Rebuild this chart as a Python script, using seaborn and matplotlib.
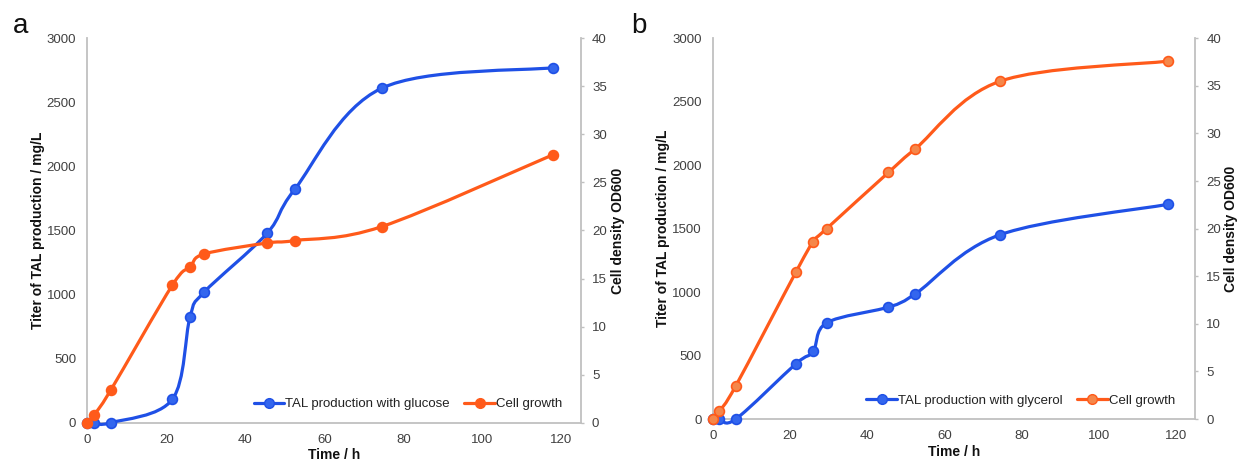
import numpy as np
import matplotlib
matplotlib.use("Agg")
import matplotlib.pyplot as plt
from matplotlib.path import Path
from matplotlib.patches import PathPatch
from matplotlib.lines import Line2D
import seaborn as sns

# ---------------- data ----------------
time_a = [0, 1.7, 6, 21.5, 26, 29.5, 45.5, 52.5, 74.5, 118]
tal_glucose = [0, 0, 0, 182, 827, 1017, 1478, 1821, 2610, 2771]
od_glucose = [0, 0.8, 3.45, 14.3, 16.2, 17.55, 18.7, 18.95, 20.4, 27.9]

time_b = [0, 1.7, 6, 21.5, 26, 29.5, 45.5, 52.5, 74.5, 118]
tal_glycerol = [0, 0, 0, 434, 532, 758, 882, 987, 1453, 1692]
od_glycerol = [0, 0.8, 3.5, 15.4, 18.6, 20.0, 25.9, 28.4, 35.5, 37.6]

x_ticks = [0, 20, 40, 60, 80, 100, 120]
left_ticks = [0, 500, 1000, 1500, 2000, 2500, 3000]
right_ticks = [0, 5, 10, 15, 20, 25, 30, 35, 40]

panel_labels = ["a", "b"]
legend_tal = ["TAL production with glucose", "TAL production with glycerol"]
legend_cell = "Cell growth"
xlabel = "Time / h"
ylabel_left = "Titer of TAL production / mg/L"
ylabel_right = "Cell density OD600"

BLUE = "#1F50E6"
ORANGE = "#FF5A1A"
BLUE_FACE = "#3366EE"
ORANGE_FACE_B = "#F5874A"
SPINE = "#C0C0C0"
TICKC = "#404040"

sns.set_theme(style="white")
plt.rcParams["font.family"] = ["Liberation Sans", "DejaVu Sans"]


def smooth_path(x, y):
    pts = np.column_stack([np.asarray(x, float), np.asarray(y, float)])
    n = len(pts)
    verts = [pts[0]]
    codes = [Path.MOVETO]
    for i in range(n - 1):
        p0 = pts[i - 1] if i > 0 else pts[i]
        p1 = pts[i]
        p2 = pts[i + 1]
        p3 = pts[i + 2] if i + 2 < n else pts[i + 1]
        c1 = p1 + (p2 - p0) / 6.0
        c2 = p2 - (p3 - p1) / 6.0
        verts += [c1, c2, p2]
        codes += [Path.CURVE4] * 3
    return Path(verts, codes)


fig = plt.figure(figsize=(12.38, 4.61), dpi=100)

rects = [
    [87.4 / 1238, (461 - 422.7) / 461, 493.6 / 1238, 384.4 / 461],
    [712.7 / 1238, (461 - 419) / 461, 482.7 / 1238, 380.7 / 461],
]
datasets = [
    (time_a, tal_glucose, od_glucose, BLUE_FACE, ORANGE),
    (time_b, tal_glycerol, od_glycerol, BLUE_FACE, ORANGE_FACE_B),
]
leg_anchor = [(0.962, 0.0486), (0.958, 0.048)]
ylab_left_x = [-0.101, -0.103]
ylab_right_x = [1.075, 1.074]
xlab_y = [-0.084, -0.087]
letter_pos = [(13 / 1238, 1 - 33 / 461), (631 / 1238, 1 - 33 / 461)]

for k in range(2):
    t, tal, od, bface, oface = datasets[k]
    ax = fig.add_axes(rects[k])
    ax2 = ax.twinx()

    # lines (smoothed through the data points)
    ax.add_patch(PathPatch(smooth_path(t, tal), facecolor="none", edgecolor=BLUE,
                           lw=2.3, capstyle="round", joinstyle="round", clip_on=False, zorder=3))
    ax2.add_patch(PathPatch(smooth_path(t, od), facecolor="none", edgecolor=ORANGE,
                            lw=2.3, capstyle="round", joinstyle="round", clip_on=False, zorder=3))
    sns.scatterplot(x=t, y=tal, ax=ax, s=50, color=bface, edgecolor=BLUE, linewidth=1.2,
                    clip_on=False, zorder=4, legend=False)
    sns.scatterplot(x=t, y=od, ax=ax2, s=50, color=oface, edgecolor=ORANGE, linewidth=1.2,
                    clip_on=False, zorder=4, legend=False)

    ax.set_xlim(0, 125)
    ax.set_ylim(0, 3000)
    ax2.set_ylim(0, 40)
    ax.set_xticks(x_ticks)
    ax.set_yticks(left_ticks)
    ax2.set_yticks(right_ticks)
    ax.set_xticklabels([str(v) for v in x_ticks])
    ax.set_yticklabels([str(v) for v in left_ticks])
    ax2.set_yticklabels([str(v) for v in right_ticks])

    for a in (ax, ax2):
        a.grid(False)
        a.set_facecolor("none")
        a.spines["top"].set_visible(False)
        for side in ("left", "bottom", "right"):
            a.spines[side].set_color(SPINE)
            a.spines[side].set_linewidth(1.3)
    ax.spines["right"].set_visible(False)
    ax2.spines["left"].set_visible(False)
    ax2.spines["bottom"].set_visible(False)

    ax.tick_params(axis="x", length=0, pad=8, labelsize=9.5, labelcolor=TICKC)
    ax.tick_params(axis="y", length=0, pad=8, labelsize=9.5, labelcolor=TICKC)
    ax2.tick_params(axis="y", right=True, length=2.4, width=1.0, color=SPINE, pad=5.5,
                    labelsize=9.5, labelcolor=TICKC)

    ax.set_xlabel(xlabel, fontsize=10, fontweight="bold", color="#111111")
    ax.xaxis.set_label_coords(0.5, xlab_y[k])
    ax.xaxis.label.set_va("center")
    ax.set_ylabel(ylabel_left, fontsize=10, fontweight="bold", color="#111111")
    ax.yaxis.set_label_coords(ylab_left_x[k], 0.5)
    ax.yaxis.label.set_va("center")
    ax2.set_ylabel(ylabel_right, fontsize=10, fontweight="bold", color="#111111",
                   rotation=90)
    ax2.yaxis.set_label_coords(ylab_right_x[k], 0.5)
    ax2.yaxis.label.set_va("center")

    handles = [
        Line2D([], [], color=BLUE, lw=2.3, marker="o", markersize=7,
               markerfacecolor=bface, markeredgecolor=BLUE),
        Line2D([], [], color=ORANGE, lw=2.3, marker="o", markersize=7,
               markerfacecolor=oface, markeredgecolor=ORANGE),
    ]
    leg = ax2.legend(handles, [legend_tal[k], legend_cell], loc="center right",
                     bbox_to_anchor=leg_anchor[k], ncol=2, frameon=False,
                     fontsize=9.5, handlelength=2.3, handletextpad=0.1,
                     columnspacing=1.1, borderpad=0, borderaxespad=0)
    for txt in leg.get_texts():
        txt.set_color("#222222")

    fig.text(letter_pos[k][0], letter_pos[k][1], panel_labels[k], fontsize=20,
             va="baseline", ha="left", color="#111111")

fig.savefig("out.png", dpi=100)
